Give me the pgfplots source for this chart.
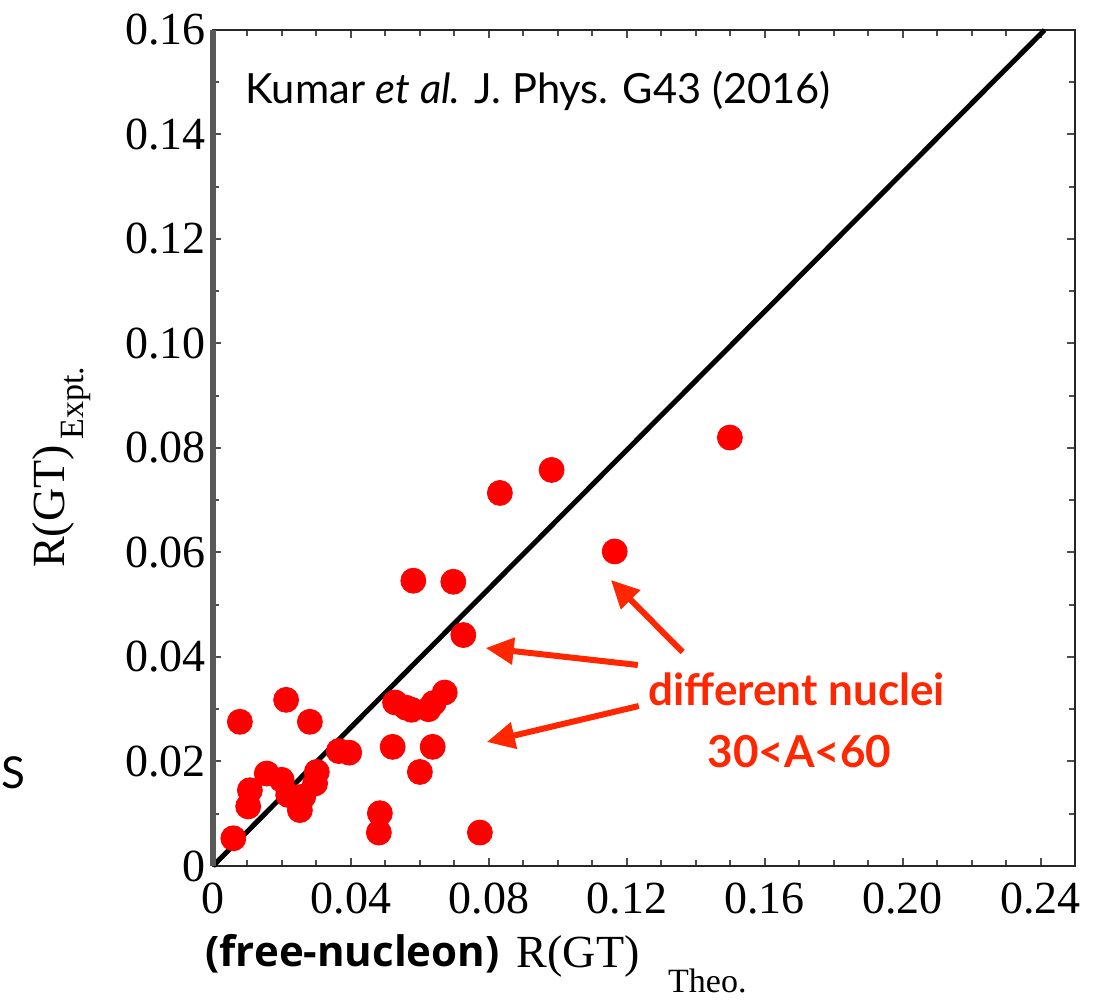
\documentclass[border=0pt]{standalone}
\usepackage{pgfplots}
\pgfplotsset{compat=1.18}
\usepackage{fontspec}
\setmainfont{Liberation Serif}
\newfontfamily\gill{Lato}
\newfontfamily\osans{Open Sans}
\usetikzlibrary{arrows.meta}
\definecolor{annot}{RGB}{255,38,0}
\pgfplotstableread{
x y
0.0059 0.0053
0.0078 0.0276
0.0102 0.0114
0.0107 0.0145
0.0156 0.0177
0.0199 0.0165
0.0212 0.0318
0.0218 0.0136
0.0252 0.0107
0.0262 0.0133
0.0281 0.0276
0.0296 0.0158
0.0301 0.0180
0.0365 0.0220
0.0395 0.0217
0.0481 0.0064
0.0484 0.0101
0.0521 0.0228
0.0528 0.0313
0.0560 0.0303
0.0576 0.0299
0.0581 0.0546
0.0600 0.0180
0.0625 0.0300
0.0637 0.0228
0.0640 0.0312
0.0672 0.0332
0.0697 0.0544
0.0726 0.0442
0.0774 0.0064
0.0832 0.0714
0.0982 0.0758
0.1165 0.0602
0.1499 0.0820
}\pts
\begin{document}
\begin{tikzpicture}
\begin{axis}[
  at={(0,0)}, anchor=origin,
  scale only axis, width=431pt, height=418pt,
  xmin=0, xmax=0.25, ymin=0, ymax=0.16,
  xtick={0,0.04,0.08,0.12,0.16,0.20,0.24},
  xticklabels={0,0.04,0.08,0.12,0.16,0.20,0.24},
  ytick={0,0.02,0.04,0.06,0.08,0.10,0.12,0.14,0.16},
  yticklabels={0,0.02,0.04,0.06,0.08,0.10,0.12,0.14,0.16},
  minor x tick num=3, minor y tick num=1,
  tick align=inside,
  major tick length=4pt, minor tick length=3pt,
  tick style={line width=1pt, black!70},
  axis line style={line width=1.3pt, black!85},
  ticklabel style={font=\fontsize{23}{27}\selectfont},
  xticklabel style={yshift=-5pt},
  clip=false,
]
\addplot[only marks, mark=*, mark size=6.25pt, color=red, mark options={draw=none, fill=red}] table[x=x, y=y] {\pts};
\addplot[line width=2.5pt, black] coordinates {(0,0) (0.2412,0.16)};

\draw[black!65, line width=3pt] (axis cs:0,0) -- (axis cs:0,0.16);

\draw[annot, line width=3pt, -{Triangle[length=14pt,width=13pt]}] (axis cs:0.1232,0.03847) -- (axis cs:0.0791,0.04172);
\draw[annot, line width=3pt, -{Triangle[length=14pt,width=13pt]}] (axis cs:0.1235,0.03062) -- (axis cs:0.0794,0.02373);
\draw[annot, line width=3pt, -{Triangle[length=14pt,width=13pt]}] (axis cs:0.1362,0.04096) -- (axis cs:0.1154,0.05474);

\node[anchor=base, text=annot, font=\gill\bfseries\fontsize{22}{26}\selectfont, inner sep=0pt] at (axis cs:0.1693,0.0308) {different nuclei};
\node[anchor=base, text=annot, font=\gill\bfseries\fontsize{22}{26}\selectfont, inner sep=0pt] at (axis cs:0.1701,0.0189) {30<A<60};

\node[anchor=base west, font=\gill\fontsize{20.8}{25}\selectfont, inner sep=0pt] at (axis cs:0.00928,0.1460) {Kumar \textit{et al.} J. Phys. G43 (2016)};

\node[anchor=base west, font=\osans\bfseries\fontsize{21}{25}\selectfont, inner sep=0pt] at (axis cs:-0.0023,-0.01914) {(free-nucleon)};
\node[anchor=base west, font=\fontsize{23}{27}\selectfont, inner sep=0pt] at (axis cs:0.0880,-0.01952) {R(GT)};
\node[anchor=base west, font=\fontsize{17}{20}\selectfont, inner sep=0pt] at (axis cs:0.1319,-0.02420) {Theo.};

\node[rotate=90, anchor=base west, font=\fontsize{23}{27}\selectfont, inner sep=0pt] at (axis cs:-0.0430,0.0570) {R(GT)};
\node[rotate=90, anchor=base west, font=\fontsize{17}{20}\selectfont, inner sep=0pt] at (axis cs:-0.0375,0.0815) {Expt.};

\node[anchor=base west, font=\gill\fontsize{22}{26}\selectfont, inner sep=0pt] at (axis cs:-0.0615,0.0149) {S};
\end{axis}
\pgfresetboundingbox
\useasboundingbox (-106.5pt,-67pt) rectangle (451pt,433pt);
\end{tikzpicture}
\end{document}
